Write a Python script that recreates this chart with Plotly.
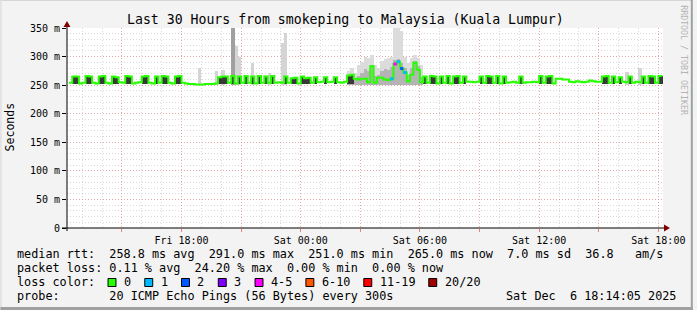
import pandas as pd
import plotly.graph_objects as go

# ---------------- data ----------------
title = "Last 30 Hours from smokeping to Malaysia (Kuala Lumpur)"
y_label = "Seconds"
watermark = "RRDTOOL / TOBI OETIKER"

range_start = "2025-12-05 12:14:05"
range_end = "2025-12-06 18:14:05"
first_sample = "2025-12-05 12:20"
sample_step = "10min"

# median rtt (ms), one value every 10 minutes
median = [
    254, 265, 265, 253, 254, 266, 265, 254, 253, 265,
    266, 254, 253, 265, 264, 255, 254, 266, 265, 253,
    254, 255, 265, 266, 254, 253, 265, 254, 266, 265,
    254, 253, 265, 266, 254, 253,
    252, 252, 251, 251, 251, 252, 252, 252, 253,
    264, 265, 265, 254, 266, 253, 265, 254, 266, 254,
    265, 253, 266, 254, 265, 254, 266, 254,
    255, 254, 265, 254,
    262, 263, 253, 265, 262, 263, 254, 264,
    255, 256, 264, 255, 256, 264, 255, 254, 256, 267, 268, 261, 260, 261, 261,
    255, 283, 254, 263, 263, 260, 259, 261, 287, 291, 279, 272, 257, 268, 289, 277, 255,
    265, 254, 266, 265, 253, 265, 254, 266, 253, 265, 266, 254, 265,
    256, 256, 255, 256,
    265, 254, 266, 265, 254, 266, 253, 265, 254,
    255, 256, 254,
    265, 254,
    255, 255, 256, 255,
    266, 254, 265, 266, 253,
    261, 261, 260, 260,
    256, 255, 257, 256, 255, 256, 258, 257, 256, 256,
    265, 266, 254, 265,
    255, 264, 256, 255, 265, 254, 256, 255,
    265, 254, 266, 265, 254, 266, 265,
]

# samples whose pings split between the two levels (dense dark smoke)
dark = [
    0, 1, 1, 0, 0, 1, 1, 0, 0, 1, 1, 0, 0, 1, 1, 0, 0, 1, 1, 0,
    0, 0, 1, 1, 0, 0, 1, 0, 1, 1, 0, 0, 1, 1, 0, 0,
    0, 0, 0, 0, 0, 0, 0, 0, 0,
    1, 1, 1, 0, 1, 0, 1, 0, 1, 0, 1, 0, 1, 0, 1, 0, 1, 0,
    0, 0, 1, 0,
    1, 1, 0, 1, 1, 1, 0, 1,
    0, 0, 1, 0, 0, 1, 0, 0, 0, 1, 1, 0, 0, 0, 0,
    0, 0, 0, 0, 0, 0, 0, 0, 0, 0, 0, 0, 0, 0, 0, 0, 0,
    1, 0, 1, 1, 0, 1, 0, 1, 0, 1, 1, 0, 1,
    0, 0, 0, 0,
    1, 0, 1, 1, 0, 1, 0, 1, 0,
    0, 0, 0,
    1, 0,
    0, 0, 0, 0,
    1, 0, 1, 1, 0,
    0, 0, 0, 0,
    0, 0, 0, 0, 0, 0, 0, 0, 0, 0,
    1, 1, 0, 1,
    0, 1, 0, 0, 1, 0, 0, 0,
    1, 0, 1, 1, 0, 1, 1,
]

# isolated smoke spikes (max ping, ms)
light_spike_idx = [39, 44, 46, 50, 51, 55, 60, 64, 65, 168, 172]
light_spike_top = [280, 274, 276, 318, 300, 289, 272, 324, 341, 273, 280]
dark_spike_idx = [49]
dark_spike_top = [360]

# smoke cloud around Sat 03:00 - 06:00
cloud_idx = list(range(84, 107))
cloud_top = [275, 280, 272, 285, 290, 300, 298, 303, 285, 280, 292, 296,
             298, 300, 360, 360, 345, 300, 288, 298, 302, 298, 285]
cloud_core = [262, 264, 262, 266, 272, 278, 274, 286, 266, 268, 274, 278,
              276, 282, 294, 296, 288, 280, 268, 280, 292, 284, 264]

# samples with packet loss and their loss-colour class
loss_idx = [97, 98, 99, 100, 101]
loss_class = [1, 4, 1, 2, 1]

loss_labels = ["0", "1", "2", "3", "4-5", "6-10", "11-19", "20/20"]
loss_colors = ["#26ff00", "#00b8ff", "#0059ff", "#7e00ff", "#ff00ff",
               "#ff5500", "#ff0000", "#a10000"]

y_tickvals = [0, 50, 100, 150, 200, 250, 300, 350]
y_ticktext = ["0", "50 m", "100 m", "150 m", "200 m", "250 m", "300 m", "350 m"]

row_rtt = "median rtt:  258.8 ms avg  291.0 ms max  251.0 ms min  265.0 ms now  7.0 ms sd  36.8   am/s"
row_loss = "packet loss: 0.11 % avg  24.20 % max  0.00 % min  0.00 % now"
row_color = "loss color:"
row_probe = "probe:       20 ICMP Echo Pings (56 Bytes) every 300s"
stamp = "Sat Dec  6 18:14:05 2025"

# ---------------- geometry helpers ----------------
FW, FH = 697, 310
L, T, W, H = 67, 28, 600, 200
MONO = "DejaVu Sans Mono"


def px(x):
    return (x - L) / W


def py(y):
    return (T + H - y) / H


def nb(s):
    return s.replace(" ", "\u00a0")


times = pd.date_range(first_sample, periods=len(median), freq=sample_step)
STEP_MS = 10 * 60 * 1000

fig = go.Figure()


def add_bars(idx, top, base, color):
    fig.add_trace(go.Bar(
        x=[times[i] for i in idx], y=[t - base for t in top], base=base,
        width=STEP_MS, offset=0, marker=dict(color=color, line=dict(width=0)),
        hoverinfo="skip", showlegend=False))


add_bars(light_spike_idx, light_spike_top, 250, "#d4d4d4")
add_bars(cloud_idx, cloud_top, 250, "#dcdcdc")
add_bars(cloud_idx, cloud_core, 251, "#b4b4b4")
add_bars(dark_spike_idx, dark_spike_top, 250, "#a0a0a0")
d_idx = [i for i, f in enumerate(dark) if f]
add_bars(d_idx, [median[i] + 1 for i in d_idx], 252.5, "#383838")

fig.add_trace(go.Scatter(x=times, y=median, mode="lines",
                         line=dict(color=loss_colors[0], width=2, shape="hv"),
                         hoverinfo="skip", showlegend=False))

for i, c in zip(loss_idx, loss_class):
    t0 = times[i]
    t1 = t0 + pd.Timedelta(sample_step)
    fig.add_trace(go.Scatter(x=[t0, t1], y=[median[i], median[i]], mode="lines",
                             line=dict(color=loss_colors[c], width=3),
                             hoverinfo="skip", showlegend=False))

# ticks / grid
major_x = pd.date_range("2025-12-05 15:00", "2025-12-06 18:00", freq="3h")
minor_x = pd.date_range("2025-12-05 13:00", "2025-12-06 18:00", freq="1h")
major_text = [t.strftime("%a %H:%M") if t.hour % 6 == 0 else "" for t in major_x]

GRID_MAJOR = "rgba(240,110,110,0.45)"
GRID_MINOR = "rgba(150,150,150,0.35)"
DOT = "1px,2px"

fig.update_layout(
    width=FW, height=FH,
    margin=dict(l=L, r=FW - L - W, t=T, b=FH - T - H, pad=0),
    paper_bgcolor="#f3f3f3", plot_bgcolor="#ffffff",
    barmode="overlay", bargap=0, showlegend=False,
    font=dict(family=MONO, size=10, color="#000000"),
    xaxis=dict(
        type="date", range=[range_start, range_end],
        tickmode="array", tickvals=list(major_x), ticktext=major_text,
        showgrid=True, gridcolor=GRID_MAJOR, griddash=DOT, gridwidth=1,
        ticks="outside", ticklen=3, tickcolor="#f08080", tickwidth=1,
        tickfont=dict(family=MONO, size=10, color="#000000"),
        minor=dict(tickmode="array", tickvals=list(minor_x), showgrid=True,
                   gridcolor=GRID_MINOR, griddash=DOT, gridwidth=1, ticks=""),
        showline=False, zeroline=False, fixedrange=True,
    ),
    yaxis=dict(
        range=[0, 350], tickmode="array", tickvals=y_tickvals, ticktext=y_ticktext,
        showgrid=True, gridcolor=GRID_MAJOR, griddash=DOT, gridwidth=1,
        ticks="outside", ticklen=4, tickcolor="#000000", tickwidth=1,
        tickfont=dict(family=MONO, size=10, color="#000000"),
        minor=dict(tickmode="linear", tick0=0, dtick=10, showgrid=True,
                   gridcolor=GRID_MINOR, griddash=DOT, gridwidth=1, ticks=""),
        showline=False, zeroline=False, fixedrange=True,
    ),
)

shapes = []
# frame of the image
shapes.append(dict(type="line", xref="paper", yref="paper", x0=px(0), x1=px(FW), y0=py(0.5), y1=py(0.5),
                   line=dict(color="#d6d6d6", width=1)))
shapes.append(dict(type="line", xref="paper", yref="paper", x0=px(0.5), x1=px(0.5), y0=py(0), y1=py(FH),
                   line=dict(color="#d6d6d6", width=1)))
shapes.append(dict(type="line", xref="paper", yref="paper", x0=px(0), x1=px(FW), y0=py(FH - 1.5), y1=py(FH - 1.5),
                   line=dict(color="#a0a0a0", width=3)))
shapes.append(dict(type="line", xref="paper", yref="paper", x0=px(FW - 1), x1=px(FW - 1), y0=py(0), y1=py(FH),
                   line=dict(color="#a0a0a0", width=2)))
# axes with arrows
shapes.append(dict(type="line", xref="paper", yref="paper", x0=px(62), x1=px(670), y0=0, y1=0,
                   line=dict(color="#000000", width=1)))
shapes.append(dict(type="line", xref="paper", yref="paper", x0=0, x1=0, y0=py(231), y1=py(24),
                   line=dict(color="#000000", width=1)))
shapes.append(dict(type="path", xref="paper", yref="paper",
                   path=f"M {px(668)} {py(224.5)} L {px(674)} {py(228)} L {px(668)} {py(231.5)} Z",
                   fillcolor="#800000", line=dict(width=0)))
shapes.append(dict(type="path", xref="paper", yref="paper",
                   path=f"M {px(63.5)} {py(27)} L {px(67)} {py(21)} L {px(70.5)} {py(27)} Z",
                   fillcolor="#800000", line=dict(width=0)))

annotations = []


def text(x, y, s, size, anchor="left", angle=0, color="#000000"):
    annotations.append(dict(x=px(x), y=py(y), xref="paper", yref="paper", text=nb(s),
                            showarrow=False, xanchor=anchor, yanchor="middle", textangle=angle,
                            borderpad=0, font=dict(family=MONO, size=size, color=color)))


CH = 7.1
text(347.5, 19, title, 13.2, anchor="center")
text(10, 127, y_label, 11.5, anchor="center", angle=-90)
text(688, 60, watermark, 8.3, anchor="center", angle=90, color="#b4b4b4")
text(16, 254.3, row_rtt, 11.8)
text(16, 268.3, row_loss, 11.8)
text(16, 282.3, row_color, 11.8)
text(16, 296.3, row_probe, 11.8)
text(681.5, 296.3, stamp, 11.8, anchor="right")

bx = 16 + 13 * CH
for lab, col in zip(loss_labels, loss_colors):
    shapes.append(dict(type="rect", xref="paper", yref="paper",
                       x0=px(bx), x1=px(bx + 8), y0=py(286.5), y1=py(278.5),
                       fillcolor=col, line=dict(color="#000000", width=1)))
    text(bx + 15, 282.3, lab, 11.8)
    bx += 37 + CH * (len(lab) - 1)

fig.update_layout(shapes=shapes, annotations=annotations)
fig.write_html("out.html")
